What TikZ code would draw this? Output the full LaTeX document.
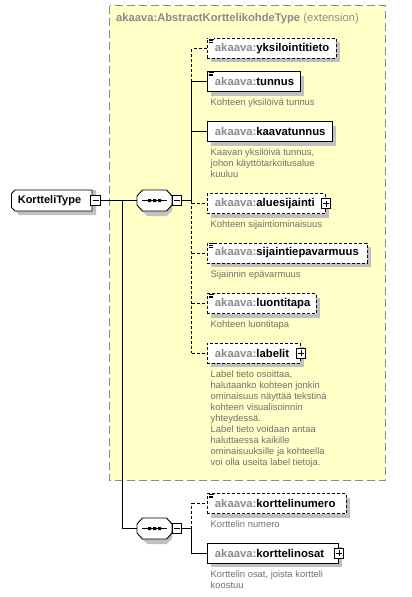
\documentclass[tikz,border=0pt]{standalone}
\usepackage{fontspec}
\setmainfont{Liberation Sans}
\usetikzlibrary{shadows,calc}
\definecolor{ylw}{HTML}{FFFFC8}
\definecolor{shd}{HTML}{C0C0C0}
\definecolor{gry}{HTML}{8A8A8A}
\definecolor{dsc}{HTML}{707070}
\definecolor{bord}{HTML}{8C8C8C}
\newcommand\nm[1]{\mbox{{\color{gry}akaava:}#1}}
\newcommand\docicon[1]{%
  \fill[white] ($(#1.north west)+(0.6,0.6)$) rectangle +(6.5,5.2);
  \draw[line width=0.7pt] ($(#1.north west)+(1.5,1.2)$) -- +(5,0)
    ($(#1.north west)+(1.5,2.8)$) -- +(4.5,0)
    ($(#1.north west)+(1.5,4.4)$) -- +(4.5,0);}
\newcommand\pmsign[2]{%
  \draw[line width=0.8pt] ($(#1.center)+(-3,0)$) -- ($(#1.center)+(3,0)$);
  \ifx#2p\draw[line width=0.8pt] ($(#1.center)+(0,-3)$) -- ($(#1.center)+(0,3)$);\fi}
\begin{document}
\begin{tikzpicture}[x=1pt,y=-1pt,
  elem/.style={draw, fill=white, line width=0.9pt, minimum height=20pt,
    inner xsep=7.5pt, inner ysep=0pt, anchor=west, align=left,
    font=\fontsize{11.3}{13}\selectfont\bfseries,
    drop shadow={shadow xshift=4pt, shadow yshift=-4pt, opacity=1, fill=shd}},
  optelem/.style={elem, dash pattern=on 3pt off 2pt},
  desc/.style={anchor=north west, inner sep=0pt, align=left,
    font=\fontsize{9.4}{11}\selectfont, text=dsc},
  pmbox/.style={draw, fill=white, line width=0.8pt, minimum size=9.5pt, inner sep=0pt},
  conn/.style={line width=0.9pt},
  optconn/.style={conn, dash pattern=on 3pt off 2pt},
  seqbox/.style={minimum width=35pt, minimum height=21pt, inner sep=0pt},
  plain/.style={inner sep=0pt}
]
\useasboundingbox (0,0) rectangle (412,597);

% extension region
\path[fill=ylw, draw=bord, line width=1pt, dash pattern=on 8pt off 4pt]
  (109.5,5.5) rectangle (385,480.5);
\node[plain, anchor=west, font=\fontsize{11.2}{13}\selectfont] (ttl) at (116,19)
  {{\bfseries\color{gry}akaava:AbstractKorttelikohdeType} {\color{gry}(extension)}};

% root element
\fill[shd] (15.5,194) -- (19,190) -- (96,190) -- (96,215) -- (19,215) -- (15.5,211) -- cycle;
\path[fill=white, draw=black, line width=0.9pt] (11.5,193.5) -- (15,190) -- (92,190) -- (92,211) -- (15,211) -- (11.5,207.5) -- cycle;
\node[plain, font=\fontsize{11}{13}\selectfont\bfseries] (ktt) at (49.5,200.5) {KortteliType};
\node[pmbox] (ktm) at (95.5,200.5) {};
\pmsign{ktm}{m}

% sequence compositors
\foreach \n/\yy in {s1/200.5, s2/528.5}{
  \node[seqbox] (\n) at (154.5,\yy) {};
  \fill[shd, shift={(\n.center)}] (-12.5,-5.5) -- (-7,-10.5) -- (12,-10.5) -- (17.5,-5.5) -- (17.5,10.5) -- (12,15.5) -- (-7,15.5) -- (-12.5,10.5) -- cycle;
  \draw[fill=white, line width=0.9pt, shift={(\n.center)}] (-17.5,-4.5) -- (-12,-10.5) -- (12,-10.5) -- (17.5,-4.5) -- (17.5,4.5) -- (12,10.5) -- (-12,10.5) -- (-17.5,4.5) -- cycle;
  \draw[line width=0.9pt, shift={(\n.center)}] (-12.5,0) -- (12.5,0);
  \fill[shift={(\n.center)}] (-6.5,-1.5) rectangle (-3.5,1.5) (-1.5,-1.5) rectangle (1.5,1.5) (3.5,-1.5) rectangle (6.5,1.5);
}
\node[pmbox] (s1m) at (177,200.5) {};
\pmsign{s1m}{m}
\node[pmbox] (s2m) at (177,528.5) {};
\pmsign{s2m}{m}

% elements of first sequence
\node[optelem, text width=114pt] (e1) at (207,48.3) {\nm{yksilointitieto}};
\node[elem, text width=78pt] (e2) at (207,81.5) {\nm{tunnus}};
\node[desc] (d2) at (210.5,98) {Kohteen yksilöivä tunnus};
\node[elem, text width=110pt] (e3) at (207,131.5) {\nm{kaavatunnus}};
\node[desc] (d3) at (210.5,148.5) {Kaavan yksilöivä tunnus,\\johon käyttötarkoitusalue\\kuuluu};
\node[optelem, text width=103pt] (e4) at (207,203.5) {\nm{aluesijainti}};
\node[desc] (d4) at (210.5,220.5) {Kohteen sijaintiominaisuus};
\node[optelem, text width=145pt] (e5) at (207,253) {\nm{sijaintiepavarmuus}};
\node[desc] (d5) at (210.5,270.5) {Sijainnin epävarmuus};
\node[optelem, text width=94pt] (e6) at (207,303.5) {\nm{luontitapa}};
\node[desc] (d6) at (210.5,320.5) {Kohteen luontitapa};
\node[optelem, text width=78pt] (e7) at (207,353.3) {\nm{labelit}};
\node[desc] (d7) at (210.5,370.5) {Label tieto osoittaa,\\halutaanko kohteen jonkin\\ominaisuus näyttää tekstinä\\kohteen visualisoinnin\\yhteydessä.\\Label tieto voidaan antaa\\haluttaessa kaikille\\ominaisuuksille ja kohteella\\voi olla useita label tietoja.};

% elements of second sequence
\node[optelem, text width=124pt] (e8) at (207,503.5) {\nm{korttelinumero}};
\node[desc] (d8) at (210.5,520.5) {Korttelin numero};
\node[elem, text width=116pt] (e9) at (207,553.3) {\nm{korttelinosat}};
\node[desc] (d9) at (210.5,570.5) {Korttelin osat, joista kortteli\\koostuu};

% doc icons
\docicon{e1}\docicon{e2}\docicon{e5}\docicon{e6}\docicon{e8}

% expand boxes
\node[pmbox] (p4) at (e4.east) {};
\pmsign{p4}{p}
\node[pmbox] (p7) at (e7.east) {};
\pmsign{p7}{p}
\node[pmbox] (p9) at (e9.east) {};
\pmsign{p9}{p}

% connectors
\coordinate (t1) at (122.7,200.5);
\coordinate (t2) at (122.7,528.5);
\draw[conn] (ktm.east) -- (s1.west);
\draw[conn] (t1) -- (t2) -- (s2.west);

\coordinate (v1) at (191.7,200.5);
\coordinate (va) at (191.7,48.3);
\coordinate (vb) at (191.7,81.5);
\coordinate (vc) at (191.7,131.5);
\coordinate (vd) at (191.7,203.5);
\coordinate (ve) at (191.7,253);
\coordinate (vf) at (191.7,303.5);
\coordinate (vg) at (191.7,353.3);
\draw[conn] (s1m.east) -- (v1);
\draw[conn] (v1) -- (vb);
\draw[optconn] (vb) -- (va) -- (e1.west);
\draw[conn] (vb) -- (e2.west);
\draw[conn] (vc) -- (e3.west);
\draw[optconn] (v1) -- (vg);
\draw[optconn] (vd) -- (e4.west);
\draw[optconn] (ve) -- (e5.west);
\draw[optconn] (vf) -- (e6.west);
\draw[optconn] (vg) -- (e7.west);

\coordinate (w1) at (191.7,528.5);
\coordinate (wa) at (191.7,503.5);
\coordinate (wb) at (191.7,553.3);
\draw[conn] (s2m.east) -- (w1);
\draw[optconn] (w1) -- (wa) -- (e8.west);
\draw[conn] (w1) -- (wb) -- (e9.west);
\end{tikzpicture}
\end{document}
